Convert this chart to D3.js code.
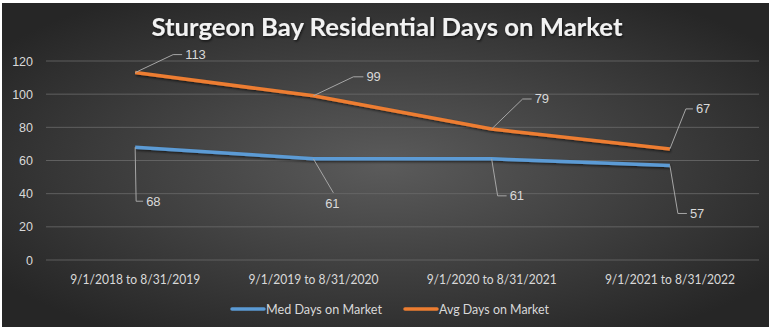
<!DOCTYPE html>
<html><head><meta charset="utf-8">
<script src="https://cdn.jsdelivr.net/npm/d3@7"></script>
<style>html,body{margin:0;padding:0;background:#fff;overflow:hidden}svg{display:block}</style>
</head><body><div id="c"></div>
<script>
const categories = ["9/1/2018 to 8/31/2019","9/1/2019 to 8/31/2020","9/1/2020 to 8/31/2021","9/1/2021 to 8/31/2022"];
const medDays = [68, 61, 61, 57];
const avgDays = [113, 99, 79, 67];
const yTicks = [0, 20, 40, 60, 80, 100, 120];
const seriesNames = ["Med Days on Market", "Avg Days on Market"];
const seriesColors = ["#5b9bd5", "#ed7d31"];

// label leader layout: [dx, dy, horizontal tail length] relative to point
const medLabelOff = [[1,54,7],[20,34,0],[6,37,9],[8,48,9]];
const avgLabelOff = [[38,-18,9],[40,-19,10],[31,-30,9],[16,-40,7]];

const W = 769, H = 327;
const svg = d3.select("#c").append("svg").attr("width", W).attr("height", H);
const defs = svg.append("defs");
const rg = defs.append("radialGradient").attr("id","bg").attr("cx","50%").attr("cy","50%").attr("r","62%")
  .attr("gradientTransform","translate(0.0,0) ");
rg.append("stop").attr("offset","0%").attr("stop-color","#5b5b5b");
rg.append("stop").attr("offset","100%").attr("stop-color","#262626");
const f = defs.append("filter").attr("id","sh").attr("x","-10%").attr("y","-50%").attr("width","120%").attr("height","200%");
f.append("feDropShadow").attr("dx",1).attr("dy",1.5).attr("stdDeviation",1.2).attr("flood-color","#000").attr("flood-opacity",0.6);

svg.append("rect").attr("x",2).attr("y",3).attr("width",W-2).attr("height",H-3).attr("fill","url(#bg)");

const x = d3.scaleBand().domain(categories).range([46, 759]);
const y = d3.scaleLinear().domain([0, 120]).range([260, 61]);
const cx = d => x(d) + x.bandwidth()/2;

// gridlines
svg.append("g").selectAll("line").data(yTicks).join("line")
  .attr("x1", 46).attr("x2", 759).attr("y1", d => y(d)).attr("y2", d => y(d))
  .attr("stroke", "#6b6b6b").attr("stroke-width", 0.8);

// y axis
const ya = svg.append("g").attr("transform","translate(46,0)")
  .call(d3.axisLeft(y).tickValues(yTicks).tickSize(0).tickPadding(13));
ya.select(".domain").remove();
ya.selectAll("text").attr("fill","#d9d9d9").style("font-family","Liberation Sans, Arial, sans-serif").style("font-size","12.5px");

// x axis
const xa = svg.append("g").attr("transform","translate(0,260)")
  .call(d3.axisBottom(x).tickSize(0).tickPadding(15));
xa.select(".domain").remove();
xa.selectAll("text").attr("fill","#d9d9d9").style("font-family","Lato, sans-serif").style("font-size","13px")
  .attr("textLength", 130).attr("lengthAdjust","spacingAndGlyphs");

// title
svg.append("text").attr("x", 387).attr("y", 36).attr("text-anchor","middle")
  .attr("fill","#f2f2f2").attr("filter","url(#sh)")
  .attr("textLength", 471).attr("lengthAdjust","spacingAndGlyphs")
  .style("font-family","Lato, sans-serif").style("font-weight","bold").style("font-size","24px")
  .text("Sturgeon Bay Residential Days on Market");

const line = d3.line().x(d => cx(d.c)).y(d => y(d.v));
const allSeries = [medDays, avgDays];
allSeries.forEach((vals, i) => {
  const data = vals.map((v, j) => ({c: categories[j], v}));
  svg.append("path").datum(data).attr("d", line).attr("fill","none")
    .attr("stroke", seriesColors[i]).attr("stroke-width", 3.5).attr("stroke-linejoin","round")
    .attr("filter","url(#sh)");
});

function labels(vals, offs) {
  const g = svg.append("g");
  vals.forEach((v, j) => {
    const px = cx(categories[j]), py = y(v);
    const [dx, dy, tail] = offs[j];
    const ex = px + dx, ey = py + dy;
    g.append("path").attr("d", `M${px},${py}L${ex},${ey}` + (tail ? `L${ex+tail},${ey}` : ""))
      .attr("fill","none").attr("stroke","#a6a6a6").attr("stroke-width",1);
    const t = g.append("text").attr("fill","#d9d9d9")
      .style("font-family","Liberation Sans, Arial, sans-serif").style("font-size","13px").text(v);
    if (tail) t.attr("x", ex + tail + 3).attr("y", ey + 4.5);
    else t.attr("x", ex - 1).attr("y", ey + 15.5).attr("text-anchor","middle");
  });
}
labels(medDays, medLabelOff);
labels(avgDays, avgLabelOff);

// legend
const lg = svg.append("g").attr("transform","translate(0,309)");
const legX = [232, 405];
seriesNames.forEach((n, i) => {
  lg.append("line").attr("x1", legX[i]).attr("x2", legX[i]+32).attr("y1",0).attr("y2",0)
    .attr("stroke", seriesColors[i]).attr("stroke-width", 3.5).attr("stroke-linecap","round");
  lg.append("text").attr("x", legX[i]+34).attr("y", 4.5).attr("fill","#d9d9d9")
    .style("font-family","Lato, sans-serif").style("font-size","13px")
    .attr("textLength", i === 0 ? 116 : 110).attr("lengthAdjust","spacingAndGlyphs").text(n);
});
</script></body></html>
